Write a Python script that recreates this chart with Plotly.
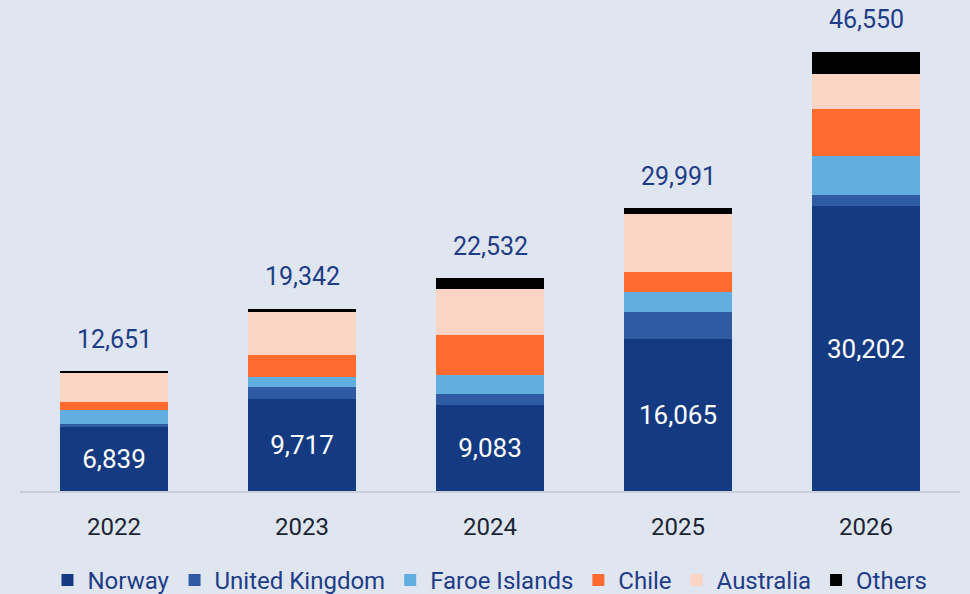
import plotly.graph_objects as go

years = ["2022", "2023", "2024", "2025", "2026"]
norway = [6839, 9717, 9083, 16065, 30202]
united_kingdom = [250, 1340, 1240, 2895, 1195]
faroe_islands = [1450, 990, 2015, 2190, 4090]
chile = [950, 2370, 4170, 2085, 5040]
australia = [3022, 4535, 4859, 6121, 3730]
others = [140, 390, 1165, 635, 2293]
totals = [12651, 19342, 22532, 29991, 46550]

series = [
    ("Norway", norway, "#143A82"),
    ("United Kingdom", united_kingdom, "#2E5BA3"),
    ("Faroe Islands", faroe_islands, "#63AEE0"),
    ("Chile", chile, "#FF6A2F"),
    ("Australia", australia, "#FBD5C3"),
    ("Others", others, "#000000"),
]

navy = "#1F3C88"
font_family = "Roboto, Open Sans, sans-serif"

fig = go.Figure()
for name, vals, color in series:
    kw = {}
    if name == "Norway":
        kw = dict(
            text=[f"{v:,}" for v in vals],
            textposition="inside",
            insidetextanchor="middle",
            textfont=dict(color="white", size=26, family=font_family),
            textangle=0,
            constraintext="none",
        )
    fig.add_trace(go.Bar(
        name=name, x=years, y=vals,
        marker=dict(color=color, line=dict(width=0)),
        hoverinfo="skip",
        **kw,
    ))

# totals above each stacked column (category index used as x position)
for i, tot in enumerate(totals):
    fig.add_annotation(
        x=i, y=tot, xref="x", yref="y", text=f"{tot:,}", showarrow=False,
        yshift=32, font=dict(color=navy, size=25, family=font_family),
    )

fig.update_layout(
    barmode="stack",
    bargap=0.43,
    width=970, height=594,
    margin=dict(l=20, r=10, t=10, b=103, autoexpand=False),
    paper_bgcolor="#DFE6F0",
    plot_bgcolor="#DFE6F0",
    font=dict(family=font_family, color=navy),
    showlegend=True,
    legend=dict(
        orientation="h", x=0.5, xanchor="center",
        yref="paper", y=-0.139, yanchor="top",
        traceorder="normal",
        font=dict(size=24, color=navy, family=font_family),
        itemwidth=30, tracegroupgap=0,
    ),
    xaxis=dict(
        type="category", range=[-0.5, 4.5],
        showline=True, linecolor="#C9CED6", linewidth=1.5,
        ticks="", tickfont=dict(size=24, color="#1B2433", family=font_family),
        ticklabelstandoff=13,
    ),
    yaxis=dict(range=[0, 51000], visible=False, showgrid=False),
)

fig.write_html("out.html")
